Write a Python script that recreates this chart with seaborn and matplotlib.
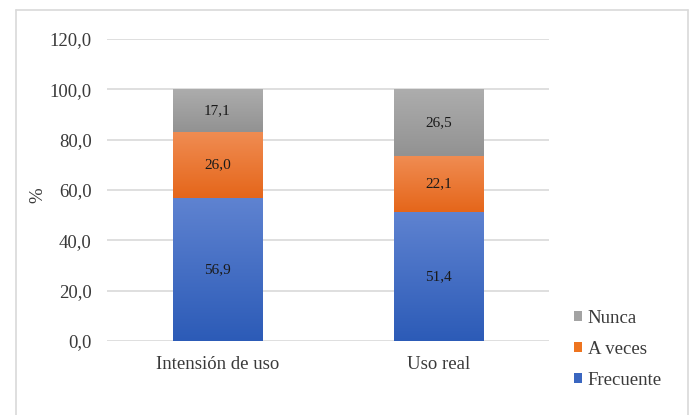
import numpy as np
import pandas as pd
import matplotlib
matplotlib.use("Agg")
import matplotlib.pyplot as plt
from matplotlib.colors import LinearSegmentedColormap
from matplotlib.lines import Line2D
from matplotlib.patches import Patch
import seaborn as sns

# Data
categories = ["Intensión de uso", "Uso real"]
frecuente = [56.9, 51.4]
a_veces = [26.0, 22.1]
nunca = [17.1, 26.5]
series_names = ["Frecuente", "A veces", "Nunca"]
y_ticks = [0, 20, 40, 60, 80, 100, 120]

# Gradient colours (top, bottom) for each series
gradients = {
    "Frecuente": ("#5f83d1", "#2c5bb7"),
    "A veces": ("#f08c52", "#e5661a"),
    "Nunca": ("#adadad", "#929292"),
}
legend_colors = {"Frecuente": "#3a66c0", "A veces": "#ee741f", "Nunca": "#a3a3a3"}

sns.set_theme(style="white")
plt.rcParams["font.family"] = ["Liberation Serif", "DejaVu Serif"]

fig = plt.figure(figsize=(6.91, 4.15), dpi=100)
ax = fig.add_axes([107 / 691, 1 - 341 / 415, (549 - 107) / 691, (341 - 39) / 415])

df = pd.DataFrame({"cat": categories, "Frecuente": frecuente,
                   "A veces": a_veces, "Nunca": nunca})

bottom = np.zeros(len(categories))
seg_patches = []
for name in series_names:
    vals = df[name].to_numpy()
    n_before = len(ax.patches)
    sns.barplot(data=df, x="cat", y=name, bottom=bottom, color=legend_colors[name],
                width=0.405, ax=ax, saturation=1, edgecolor="none", linewidth=0)
    new = ax.patches[n_before:]
    for p, v, b in zip(new, vals, bottom):
        seg_patches.append((name, p, v, b))
    bottom = bottom + vals

ax.set_xlim(-0.5, 1.5)
ax.set_ylim(0, 120)

# Vertical gradient fills clipped to each bar segment
for name, p, v, b in seg_patches:
    top_c, bot_c = gradients[name]
    cmap = LinearSegmentedColormap.from_list(name, [bot_c, top_c])
    x0 = p.get_x()
    w = p.get_width()
    grad = np.linspace(0, 1, 256).reshape(-1, 1)
    im = ax.imshow(grad, cmap=cmap, aspect="auto", origin="lower",
                   extent=[x0, x0 + w, b, b + v], zorder=p.get_zorder() + 0.1,
                   interpolation="bicubic")
    im.set_clip_path(p)
    ax.text(x0 + w / 2, b + v / 2, f"{v:.1f}".replace(".", ","),
            ha="center", va="center", fontsize=11, color="#1a1a1a", zorder=5)

ax.set_xlim(-0.5, 1.5)
ax.set_ylim(0, 120)

# Axes styling
ax.set_yticks(y_ticks)
ax.set_yticklabels([f"{t:.1f}".replace(".", ",") for t in y_ticks])
ax.yaxis.grid(True, color="#d9d9d9", linewidth=1.2)
ax.set_axisbelow(True)
for s in ax.spines.values():
    s.set_visible(False)
ax.tick_params(axis="both", length=0, labelsize=13.5, labelcolor="#3a3a3a")
ax.tick_params(axis="y", pad=11)
ax.tick_params(axis="x", pad=11)
ax.set_xlabel("")
ax.set_ylabel("%", fontsize=13.5, color="#3a3a3a")
ax.yaxis.set_label_coords(-0.138, 0.483)

# Legend
handles = [Patch(facecolor=legend_colors[n], edgecolor="none") for n in reversed(series_names)]
fig.legend(handles, list(reversed(series_names)), loc="upper left",
           bbox_to_anchor=(557 / 691, 1 - 293 / 415), frameon=False, fontsize=13.5,
           handlelength=0.45, handleheight=0.45, handletextpad=0.3,
           labelspacing=0.75, labelcolor="#3a3a3a")

# Chart area border
border = dict(color="#d9d9d9", linewidth=1.2, transform=fig.transFigure)
fig.add_artist(Line2D([16 / 691, 688 / 691], [1 - 10 / 415, 1 - 10 / 415], **border))
fig.add_artist(Line2D([16 / 691, 16 / 691], [1 - 10 / 415, 0], **border))
fig.add_artist(Line2D([688 / 691, 688 / 691], [1 - 10 / 415, 0], **border))

fig.savefig("out.png", dpi=100)
